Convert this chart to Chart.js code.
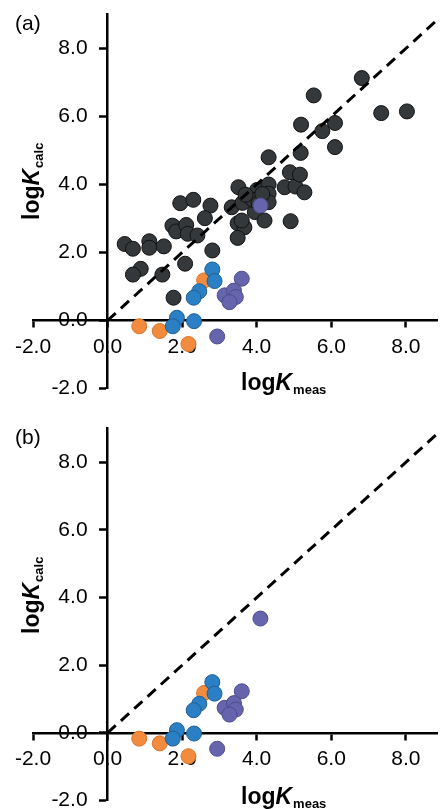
<!DOCTYPE html>
<html>
<head>
<meta charset="utf-8">
<script src="https://cdn.jsdelivr.net/npm/chart.js@4.4.1/dist/chart.umd.min.js"></script>
<style>
  html, body { margin: 0; padding: 0; background: #fff; }
  #wrap { position: relative; width: 446px; height: 809px; overflow: hidden; }
  .panel { position: absolute; left: 0; }
  #pa { top: 0; }
  #pb { top: 414px; }
</style>
</head>
<body>
<div id="wrap">
  <div class="panel" id="pa"><canvas id="chartA" width="446" height="410"></canvas></div>
  <div class="panel" id="pb"><canvas id="chartB" width="446" height="395"></canvas></div>
</div>
<script>
// tick positions
const xTicks = [-2, 0, 2, 4, 6, 8];
const yTicks = [-2, 0, 2, 4, 6, 8];

// y = x reference line
const parityLine = [[0, 0], [8.85, 8.85]];

// [logKmeas, logKcalc]
const darkPoints = [
  [0.46, 2.25], [0.68, 2.11], [1.12, 2.33], [1.12, 2.14], [1.51, 2.18],
  [0.89, 1.52], [0.68, 1.35], [1.47, 1.35], [1.77, 0.67], [2.08, 1.67],
  [1.74, 2.79], [1.84, 2.62], [2.11, 2.81], [2.15, 2.55], [2.41, 2.50],
  [2.81, 2.06], [1.95, 3.45], [2.30, 3.55], [2.76, 3.38], [2.61, 3.01],
  [3.33, 3.33], [3.51, 3.92], [3.62, 3.46], [3.80, 3.65], [4.01, 3.84],
  [4.32, 4.00], [4.32, 3.73], [4.32, 3.48], [3.95, 3.19], [4.21, 2.94],
  [3.49, 2.86], [3.67, 2.74], [3.60, 2.94], [3.49, 2.43], [4.91, 2.92],
  [4.75, 3.92], [5.04, 3.94], [5.28, 3.77], [4.89, 4.36], [5.16, 4.29],
  [4.32, 4.80], [5.18, 4.93], [5.19, 5.76], [5.76, 5.57], [6.10, 5.81],
  [6.10, 5.10], [5.53, 6.62], [6.82, 7.13], [7.34, 6.10], [8.03, 6.15],
  [3.90, 3.55], [4.05, 3.45], [4.15, 3.72], [3.70, 3.70]
];
const bluePoints = [
  [2.81, 1.50], [2.87, 1.16], [2.46, 0.86], [2.31, 0.67],
  [1.86, 0.08], [1.75, -0.17], [2.32, -0.02]
];
const orangePoints = [
  [2.59, 1.18], [0.85, -0.17], [1.40, -0.31], [2.17, -0.69]
];
const purplePoints = [
  [4.10, 3.38], [3.60, 1.23], [3.14, 0.74], [3.39, 0.88],
  [3.44, 0.69], [3.27, 0.54], [2.94, -0.47]
];

const FONT = '"Liberation Sans", Arial, sans-serif';

function toXY(arr) {
  return arr.map(p => ({x: p[0], y: p[1]}));
}

function dots(data, fill, edge) {
  return {
    data: toXY(data),
    backgroundColor: fill,
    borderColor: edge,
    borderWidth: 1,
    pointRadius: 7.5,
    pointHoverRadius: 7.5
  };
}

function drawLogK(ctx, x, y, sub) {
  ctx.font = 'bold 23px ' + FONT;
  ctx.fillText('log', x, y);
  x += ctx.measureText('log').width;
  ctx.font = 'bold italic 23px ' + FONT;
  ctx.fillText('K', x, y);
  x += ctx.measureText('K').width + 1;
  ctx.font = 'bold 13px ' + FONT;
  ctx.fillText(sub, x, y + 4);
}

const titles = {
  id: 'titles',
  afterDraw(chart, args, opts) {
    const ctx = chart.ctx;
    ctx.save();
    ctx.fillStyle = '#000';
    ctx.textAlign = 'left';
    ctx.textBaseline = 'alphabetic';
    ctx.font = '21px ' + FONT;
    ctx.fillText(opts.panel, 15, 30);
    drawLogK(ctx, 241, 390, 'meas');
    ctx.translate(39, 220);
    ctx.rotate(-Math.PI / 2);
    drawLogK(ctx, 0, 0, 'calc');
    ctx.restore();
  }
};

// y labels of an axis placed at x=0 come out flush with the axis line,
// so push them left by tick length + padding
const yLabelShift = {
  id: 'yLabelShift',
  beforeDraw(chart) {
    const s = chart.scales.y;
    const items = s.getLabelItems(chart.chartArea);
    if (items._shifted) return;
    const off = s.options.grid.tickLength + s.options.ticks.padding;
    items.forEach(it => { it.options.translation[0] -= off; });
    items._shifted = true;
  }
};

function makeChart(id, panel, withDark, pad) {
  const datasets = [
    dots(purplePoints, '#6564ad', '#4d4c8e'),
    dots(bluePoints, '#2b80c5', '#1e5e94'),
    dots(orangePoints, '#f28b3d', '#d9752c'),
    {
      type: 'line',
      data: toXY(parityLine),
      borderColor: '#000',
      borderWidth: 3,
      borderDash: [11, 7],
      pointRadius: 0,
      showLine: true,
      fill: false
    }
  ];
  if (withDark) datasets.push(dots(darkPoints, '#35383a', '#111'));

  new Chart(document.getElementById(id), {
    type: 'scatter',
    data: {datasets: datasets},
    options: {
      responsive: false,
      animation: false,
      layout: {padding: pad},
      plugins: {
        legend: {display: false},
        tooltip: {enabled: false},
        titles: {panel: panel}
      },
      scales: {
        x: {
          type: 'linear',
          min: -2,
          max: 8.85,
          position: {y: 0},
          afterBuildTicks: s => { s.ticks = xTicks.map(v => ({value: v})); },
          afterFit: s => { s.height = 0; s.paddingLeft = 0; s.paddingRight = 0; },
          border: {display: true, color: '#000', width: 2.5},
          grid: {drawOnChartArea: false, drawTicks: true, tickLength: 6, tickWidth: 2.5, color: '#000'},
          ticks: {
            color: '#000',
            padding: 8,
            font: {family: FONT, size: 21},
            maxRotation: 0,
            callback: v => v.toFixed(1)
          }
        },
        y: {
          type: 'linear',
          min: -2,
          max: 9,
          position: {x: 0},
          afterBuildTicks: s => { s.ticks = yTicks.map(v => ({value: v})); },
          afterFit: s => { s.width = 0; s.paddingTop = 0; s.paddingBottom = 0; },
          border: {display: true, color: '#000', width: 2.5},
          grid: {drawOnChartArea: false, drawTicks: true, tickLength: 7, tickWidth: 2.5, color: '#000'},
          ticks: {
            color: '#000',
            padding: 13,
            font: {family: FONT, size: 21},
            callback: v => v.toFixed(1)
          }
        }
      }
    },
    plugins: [titles, yLabelShift]
  });
}

makeChart('chartA', '(a)', true, {left: 33, right: 0, top: 14.5, bottom: 21.5});
makeChart('chartB', '(b)', false, {left: 33, right: 0, top: 14.5, bottom: 6.5});
</script>
</body>
</html>
